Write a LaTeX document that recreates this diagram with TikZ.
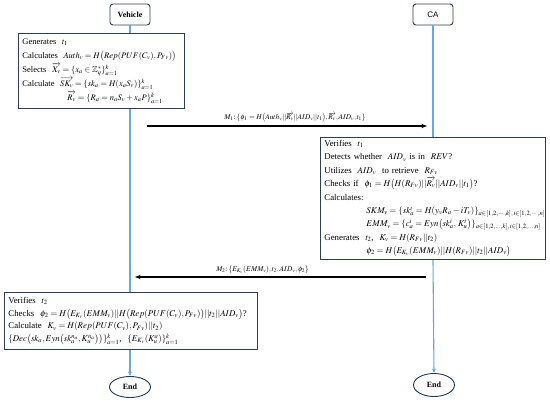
\documentclass[tikz,border=0pt]{standalone}
\usepackage{amsmath,amssymb}
\usepackage{mathptmx}
\usepackage{fontspec}
\setmainfont{Liberation Serif}
\setsansfont{Liberation Sans}
\usepackage{tikz}
\usetikzlibrary{arrows.meta,positioning,shapes.geometric}
\definecolor{linec}{HTML}{6AA6E2}
\definecolor{framec}{HTML}{2F3F50}
\definecolor{ovalc}{HTML}{1F3A57}
\tikzset{
  life/.style={linec,line width=1.1pt},
  msg/.style={-{Stealth[length=2mm,width=1.5mm]},black,line width=1.3pt},
  actor/.style={draw=framec,line width=0.9pt,rounded corners=3pt,minimum width=40pt,minimum height=21pt,inner sep=2pt,font=\fontsize{8}{10}\selectfont},
  stepbox/.style={draw=framec,line width=0.9pt,anchor=north west,align=left,inner xsep=4pt,inner ysep=2pt},
  endnode/.style={draw=ovalc,ellipse,line width=0.9pt,minimum width=41pt,minimum height=21pt,inner sep=0pt,font=\bfseries\fontsize{8}{10}\selectfont},
  lbl/.style={font=\fontsize{7.3}{9}\selectfont,inner sep=1pt}
}

\begin{document}
\begin{tikzpicture}[x=1pt,y=-1pt]
\useasboundingbox (0,0) rectangle (550,402);
% heads
\node[actor] (veh) at (130,14.5) {\textbf{Vehicle}};
\node[actor] (ca) at (433,14.5) {\sffamily CA};
% vehicle, first step
\node[stepbox,text width=158pt,minimum height=75pt,font=\fontsize{8.5}{14}\selectfont] (gen) at (18,33) {%
Generates~~$t_1$\\
Calculates~~\mbox{$Auth_v = H\big(Rep(PUF(C_v),P_{Fv})\big)$}\\
Selects~~$\overrightarrow{X_v} = \{x_a \in \mathbb{Z}_q^{*}\}_{a=1}^{k}$\\
Calculate~~\mbox{$\overrightarrow{SK_v} = \{sk_a = H(x_aS_v)\}_{a=1}^{k}$}\\
\hspace*{45pt}\mbox{$\overrightarrow{R_v} = \{R_a = n_aS_v + x_aP\}_{a=1}^{k}$}};
% CA step
\node[stepbox,text width=217pt,minimum height=122pt,font=\fontsize{8.8}{13.4}\selectfont] (ver) at (320,137) {%
Verifies~~$t_1$\\
Detects whether~~$AID_v$ is in~~$REV$?\\
Utilizes~~$AID_v$~~to retrieve~~$R_{Fv}$\\
Checks if~~\mbox{$\phi_1 = H\big(H(R_{Fv})||\overrightarrow{R_v}||AID_v||t_1\big)$?}\\
Calculates:\\
\hspace*{42pt}\mbox{$SKM_v = \{sk_a^i = H(y_vR_a - iT_v)\}_{a\in[1,2,\cdots,k],\,i\in[1,2,\cdots,n]}$}\\
\hspace*{42pt}\mbox{$EMM_v = \{c_a^i = Eyn\big(sk_a^i,\,K_u^i\big)\}_{a\in[1,2,\ldots,k],\,i\in[1,2,\ldots,n]}$}\\
Generates~~$t_2$,~~$K_v = H(R_{Fv}||t_2)$\\
\hspace*{42pt}\mbox{$\phi_2 = H\big(E_{K_v}(EMM_v)||H(R_{Fv})||t_2||AID_v\big)$}};
% vehicle, second step
\node[stepbox,text width=245pt,minimum height=57pt,font=\fontsize{8.8}{12.7}\selectfont] (chk) at (4,292) {%
Verifies~~$t_2$\\
Checks~~\mbox{$\phi_2 = H\big(E_{K_v}(EMM_v)||H\big(Rep(PUF(C_v),P_{Fv})\big)||t_2||AID_v\big)$?}\\
Calculate~~\mbox{$K_v = H(Rep(PUF(C_v),P_{Fv})||t_2)$}\\
\mbox{$\{Dec\big(sk_a,Eyn\big(sk_a^{n_a},K_u^{n_a}\big)\big)\}_{a=1}^{k}$},~~$\{E_{K_v}(K_u^a)\}_{a=1}^{k}$};
% ends
\node[endnode] (end1) at (130,387) {End};
\node[endnode,minimum height=23pt] (end2) at (434,385) {End};
% lifelines
\draw[life] (veh.south) -- (veh.south |- gen.north);
\draw[life] (veh.south |- gen.south) -- (veh.south |- chk.north);
\draw[life,-{Stealth[length=1.6mm,width=1.4mm]}] (veh.south |- chk.south) -- (end1.north);
\draw[life] (ca.south) -- (ca.south |- ver.north);
\draw[life,-{Stealth[length=1.6mm,width=1.4mm]}] (ca.south |- ver.south) -- (end2.north);
% messages
\coordinate (m1a) at (147,126);
\coordinate (m1b) at (427,126);
\coordinate (m2a) at (426,277);
\coordinate (m2b) at (135,277);
\draw[msg] (m1a) -- (m1b) node[lbl,midway,above=2pt,xshift=8pt] {$M_1$:\,$\{\phi_1 = H\big(Auth_v||\overrightarrow{R_v}||AID_v||t_1\big),\overrightarrow{R_v},AID_v,t_1\}$};
\draw[msg] (m2a) -- (m2b) node[lbl,midway,above=2pt,xshift=-18pt] {$M_2$:\,$\{E_{K_v}(EMM_v),t_2,AID_v,\phi_2\}$};
\end{tikzpicture}
\end{document}
